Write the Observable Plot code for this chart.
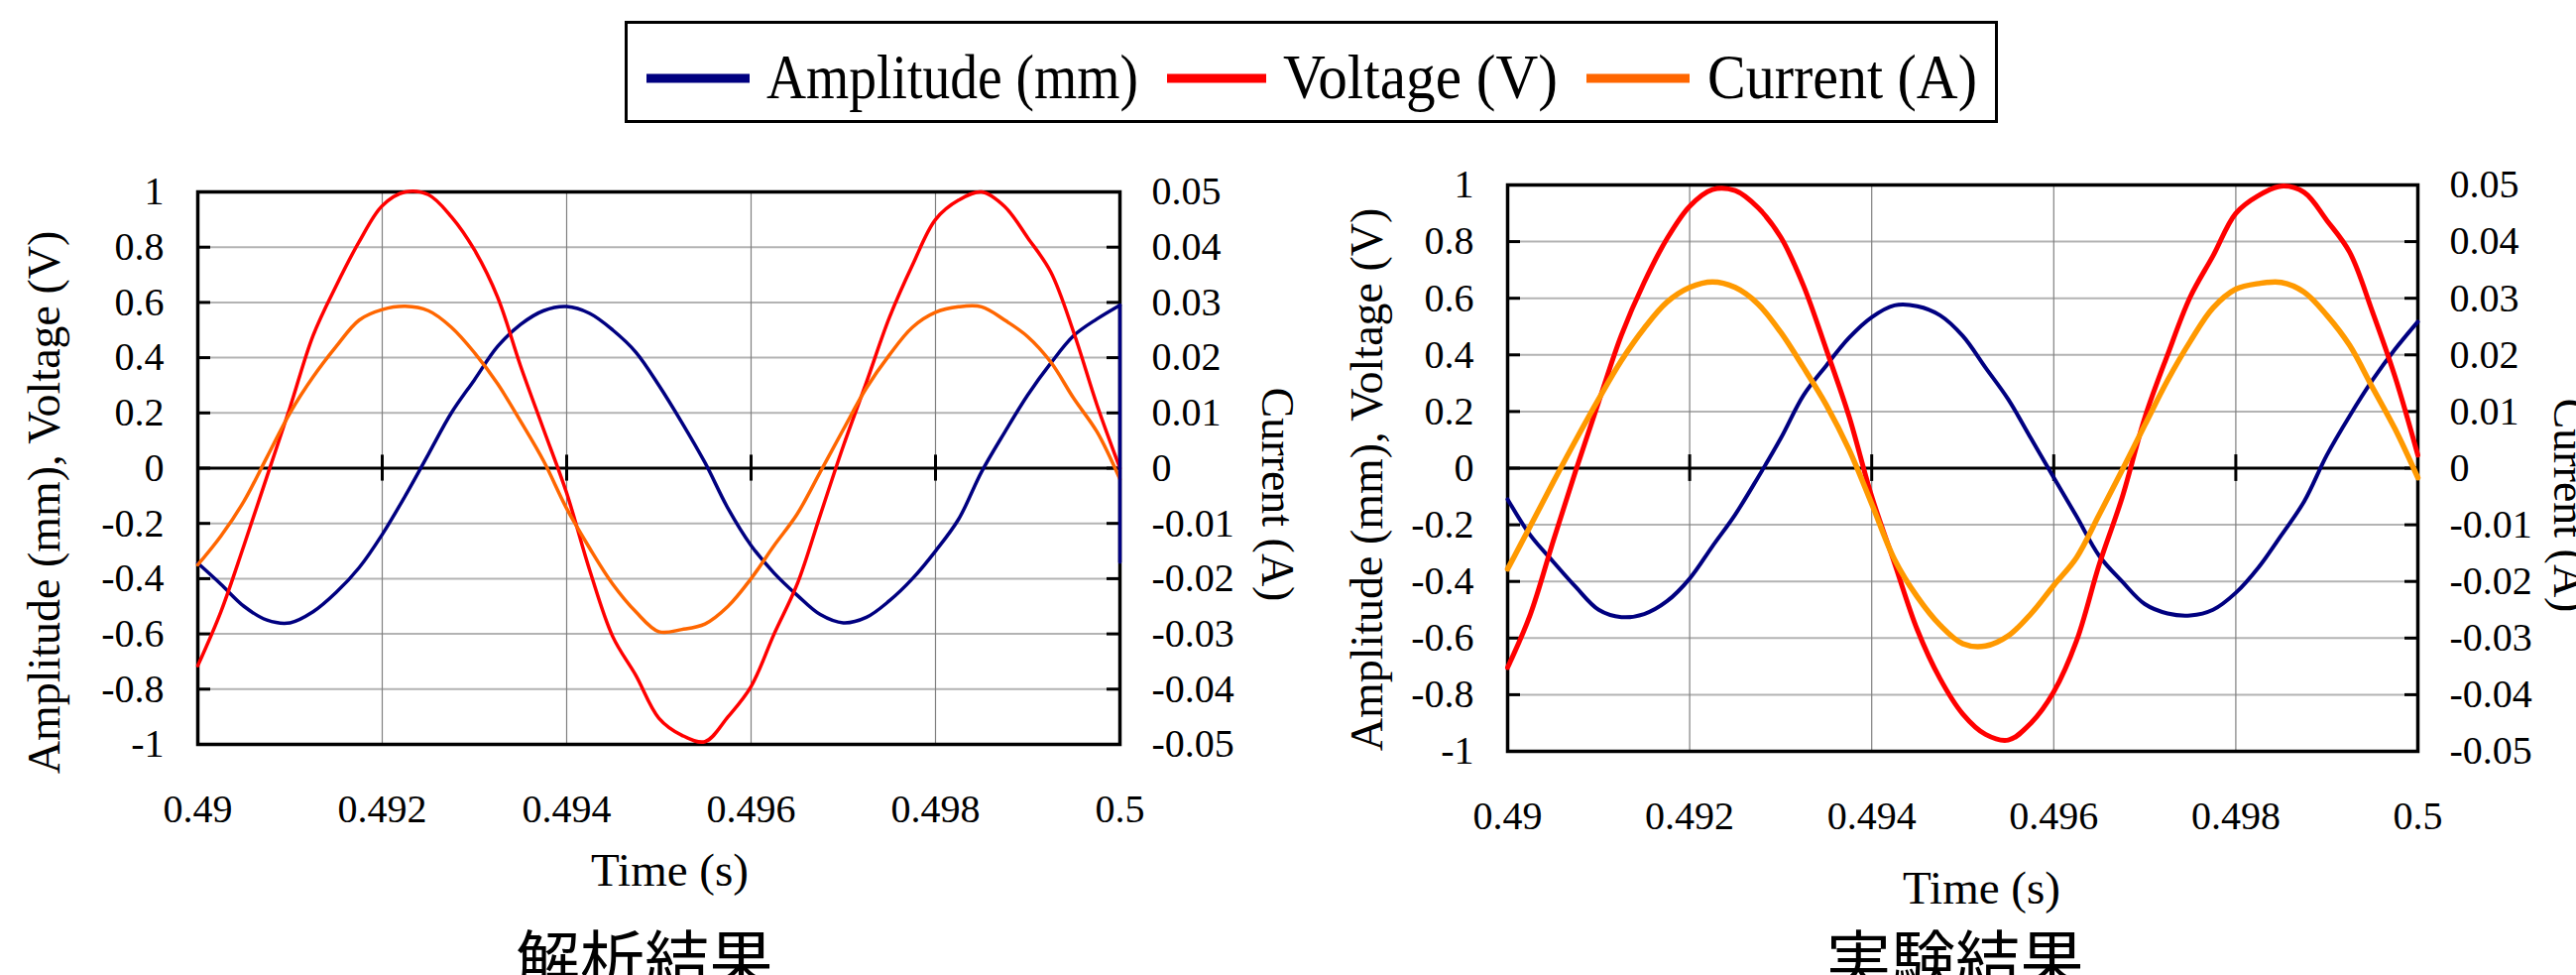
<!DOCTYPE html>
<html>
<head>
<meta charset="utf-8">
<script src="https://cdn.jsdelivr.net/npm/d3@7"></script>
<script src="https://cdn.jsdelivr.net/npm/@observablehq/plot@0.6"></script>
<style>
  html, body { margin: 0; padding: 0; background: #fff; }
  #page { position: relative; width: 2598px; height: 983px; overflow: hidden; background: #fff; }
  #legend { position: absolute; left: 0; top: 0; }
  .panel { position: absolute; top: 130px; }
  .caption { position: absolute; top: 932px; font-family: "Noto Sans CJK JP", sans-serif; font-size: 65px; line-height: 65px; white-space: nowrap; transform: translateX(-50%); color: #000; }
</style>
</head>
<body>
<div id="page">
  <div id="legend"></div>
  <div id="left" class="panel" style="left:0px"></div>
  <div id="right" class="panel" style="left:1300px"></div>
</div>
<script>
// ---------- data ----------
const time = [0.49,0.49025,0.4905,0.49075,0.491,0.49125,0.4915,0.49175,0.492,0.49225,0.4925,0.49275,0.493,0.49325,0.4935,0.49375,0.494,0.49425,0.4945,0.49475,0.495,0.49525,0.4955,0.49575,0.496,0.49625,0.4965,0.49675,0.497,0.49725,0.4975,0.49775,0.498,0.49825,0.4985,0.49875,0.499,0.49925,0.4995,0.49975,0.5];

const seriesNames = ["Amplitude (mm)", "Voltage (V)", "Current (A)"];

// 解析結果 (analysis)
const anaAmp = [-0.344,-0.42,-0.5,-0.55,-0.56,-0.52,-0.45,-0.36,-0.24,-0.1,0.05,0.2,0.32,0.44,0.52,0.57,0.585,0.56,0.5,0.42,0.3,0.165,0.02,-0.146,-0.28,-0.38,-0.46,-0.53,-0.56,-0.54,-0.48,-0.4,-0.3,-0.185,-0.013,0.13,0.265,0.38,0.48,0.54,0.59];
const anaAmpEnd = -0.34;
const anaVolt = [-0.715,-0.52,-0.28,-0.03,0.22,0.48,0.66,0.82,0.95,1.0,0.99,0.91,0.79,0.62,0.37,0.14,-0.09,-0.37,-0.61,-0.75,-0.905,-0.967,-0.99,-0.9,-0.79,-0.6,-0.42,-0.17,0.08,0.31,0.545,0.735,0.9,0.97,1.0,0.947,0.834,0.71,0.49,0.23,0.0];
const anaCur = [-0.0175,-0.0123,-0.006,0.002,0.01,0.0165,0.022,0.0268,0.0287,0.0293,0.0285,0.0255,0.0209,0.0153,0.0085,0.0013,-0.0073,-0.0145,-0.021,-0.026,-0.0296,-0.0292,-0.0282,-0.025,-0.02,-0.014,-0.0083,-0.0007,0.007,0.0145,0.0205,0.0255,0.0282,0.0292,0.0292,0.0268,0.0238,0.0192,0.0126,0.0066,-0.002];

// 実験結果 (experiment)
const expAmp = [-0.11,-0.237,-0.33,-0.42,-0.5,-0.526,-0.515,-0.47,-0.39,-0.276,-0.164,-0.033,0.105,0.257,0.362,0.46,0.533,0.575,0.572,0.54,0.467,0.355,0.243,0.105,-0.033,-0.17,-0.31,-0.4,-0.48,-0.513,-0.52,-0.5,-0.44,-0.35,-0.237,-0.118,0.046,0.184,0.31,0.42,0.517];
const expVolt = [-0.704,-0.516,-0.258,-0.007,0.234,0.47,0.656,0.81,0.925,0.984,0.98,0.92,0.816,0.645,0.42,0.184,-0.1,-0.335,-0.57,-0.743,-0.868,-0.94,-0.96,-0.9,-0.79,-0.61,-0.34,-0.105,0.178,0.4,0.605,0.75,0.9,0.963,0.996,0.974,0.875,0.763,0.553,0.322,0.046];
const expCur = [-0.0178,-0.0102,-0.0025,0.005,0.0122,0.019,0.0247,0.0293,0.0319,0.0329,0.0319,0.029,0.024,0.0178,0.0112,0.0033,-0.0063,-0.0161,-0.0227,-0.0277,-0.031,-0.0314,-0.0296,-0.0257,-0.0207,-0.0158,-0.0082,-0.0004,0.0076,0.0155,0.0224,0.0283,0.0316,0.0326,0.0328,0.0311,0.027,0.0217,0.0143,0.0069,-0.0017];

const xTicks = [0.49, 0.492, 0.494, 0.496, 0.498, 0.5];
const xTickLabels = ["0.49", "0.492", "0.494", "0.496", "0.498", "0.5"];
const yTicks = [-1, -0.8, -0.6, -0.4, -0.2, 0, 0.2, 0.4, 0.6, 0.8, 1];
const yTickLabels = ["-1", "-0.8", "-0.6", "-0.4", "-0.2", "0", "0.2", "0.4", "0.6", "0.8", "1"];
const curTickLabels = ["-0.05", "-0.04", "-0.03", "-0.02", "-0.01", "0", "0.01", "0.02", "0.03", "0.04", "0.05"];
const yTitle = "Amplitude (mm), Voltage (V)";
const y2Title = "Current (A)";
const xTitle = "Time (s)";
const captions = ["解析結果", "実験結果"];
const yMax = 1, curMax = 0.05;

// ---------- styles ----------
const FONT = "'Liberation Serif', 'Times New Roman', serif";
const NAVY = "#000080", RED = "#ff0000", ORANGE = "#ff6600", ORANGE2 = "#ff9900";

// ---------- legend ----------
const lg = d3.select("#legend").append("svg").attr("width", 2598).attr("height", 130)
  .style("font-family", FONT);
lg.append("rect").attr("x", 631.5).attr("y", 22.5).attr("width", 1382).attr("height", 100)
  .attr("fill", "none").attr("stroke", "#000").attr("stroke-width", 3);
const legendItems = [
  {name: seriesNames[0], color: NAVY, x0: 652, x1: 756, tx: 773, tw: 375},
  {name: seriesNames[1], color: RED, x0: 1177, x1: 1277, tx: 1294, tw: 277},
  {name: seriesNames[2], color: ORANGE, x0: 1600, x1: 1704, tx: 1722, tw: 272}
];
for (const it of legendItems) {
  lg.append("line").attr("x1", it.x0).attr("x2", it.x1).attr("y1", 79).attr("y2", 79)
    .attr("stroke", it.color).attr("stroke-width", 9);
  lg.append("text").attr("x", it.tx).attr("y", 99).attr("font-size", 63)
    .attr("textLength", it.tw).attr("lengthAdjust", "spacingAndGlyphs").text(it.name);
}

// ---------- panels ----------
function panel(cfg) {
  const k = yMax / curMax;
  const rows = time.map((t, i) => ({t, amp: cfg.amp[i], volt: cfg.volt[i], cur: cfg.cur[i] * k}));
  const fw = cfg.width - cfg.ml - cfg.mr;
  const yIdx = d => Math.round((d + 1) * 5);
  const xIdx = d => Math.round((d - 0.49) / 0.002);
  const marks = [
    Plot.gridY(yTicks, {stroke: "#b3b3b3", strokeWidth: 2, strokeOpacity: 1}),
    Plot.gridX(xTicks, {stroke: "#808080", strokeWidth: 1.2, strokeOpacity: 1}),
    Plot.ruleY([0], {stroke: "#000", strokeWidth: 3}),
    Plot.ruleX(xTicks, {y1: -0.047, y2: 0.047, stroke: "#000", strokeWidth: 3}),
    Plot.tickY(yTicks, {y: d => d, insetRight: fw - 13, stroke: "#000", strokeWidth: 3}),
    Plot.tickY(yTicks, {y: d => d, insetLeft: fw - 13, stroke: "#000", strokeWidth: 3}),
    Plot.frame({stroke: "#000", strokeWidth: 3.5}),
    Plot.line(rows, {x: "t", y: "amp", stroke: NAVY, strokeWidth: cfg.swAmp, curve: "catmull-rom"}),
    Plot.line(rows, {x: "t", y: "volt", stroke: RED, strokeWidth: cfg.swVolt, curve: "catmull-rom"}),
    Plot.line(rows, {x: "t", y: "cur", stroke: cfg.curColor, strokeWidth: cfg.swCur, curve: "catmull-rom"}),
    Plot.axisY(yTicks, {anchor: "left", tickSize: 0, tickPadding: 34, fontSize: 40, label: null,
      tickFormat: d => yTickLabels[yIdx(d)]}),
    Plot.axisY(yTicks, {anchor: "right", tickSize: 0, tickPadding: 32, fontSize: 40, label: null,
      tickFormat: d => curTickLabels[yIdx(d)]}),
    Plot.axisX(xTicks, {anchor: "bottom", tickSize: 0, tickPadding: 50, fontSize: 40, label: null,
      tickFormat: d => xTickLabels[xIdx(d)]}),
    Plot.text([yTitle], {text: d => d, frameAnchor: "left", rotate: -90, textAnchor: "middle", lineAnchor: "bottom",
      dx: cfg.yT[0], dy: cfg.yT[1], fontSize: 46}),
    Plot.text([y2Title], {text: d => d, frameAnchor: "right", rotate: 90, textAnchor: "middle", lineAnchor: "bottom",
      dx: cfg.y2T[0], dy: cfg.y2T[1], fontSize: 46}),
    Plot.text([xTitle], {text: d => d, frameAnchor: "bottom", textAnchor: "middle", lineAnchor: "bottom",
      dx: cfg.xT[0], dy: cfg.xT[1], fontSize: 47})
  ];
  if (cfg.ampEnd !== undefined) {
    const n = time.length - 1;
    marks.push(Plot.line([{t: time[n], a: cfg.amp[n]}, {t: time[n], a: cfg.ampEnd}],
      {x: "t", y: "a", stroke: NAVY, strokeWidth: cfg.swAmp}));
  }
  const svg = Plot.plot({
    width: cfg.width, height: cfg.height,
    marginLeft: cfg.ml, marginRight: cfg.mr, marginTop: cfg.mt, marginBottom: cfg.mb,
    style: {fontFamily: FONT, fontSize: "40px", background: "transparent", overflow: "visible", color: "#000"},
    x: {domain: [xTicks[0], xTicks[xTicks.length - 1]]},
    y: {domain: [-yMax, yMax]},
    marks
  });
  // force the serif face on every text (axis groups set their own font)
  d3.select(svg).selectAll("g, text").style("font-family", FONT).style("font-variant", "normal");
  return svg;
}

document.getElementById("left").appendChild(panel({
  amp: anaAmp, volt: anaVolt, cur: anaCur, ampEnd: anaAmpEnd, curColor: ORANGE,
  swAmp: 3.5, swVolt: 3.5, swCur: 3.5,
  width: 1300, height: 800, ml: 199, mr: 171, mt: 63, mb: 180,
  yT: [-140, 34.5], y2T: [143, 26.5], xT: [11, 142]
}));
document.getElementById("right").appendChild(panel({
  amp: expAmp, volt: expVolt, cur: expCur, curColor: ORANGE2,
  swAmp: 4, swVolt: 5, swCur: 5.5,
  width: 1298, height: 800, ml: 220, mr: 160, mt: 56, mb: 173,
  yT: [-127, 11.5], y2T: [137, 37.5], xT: [19, 153]
}));

// ---------- captions ----------
const capX = [650, 1972];
captions.forEach((c, i) => {
  d3.select("#page").append("div").attr("class", "caption").style("left", capX[i] + "px").text(c);
});
</script>
</body>
</html>
